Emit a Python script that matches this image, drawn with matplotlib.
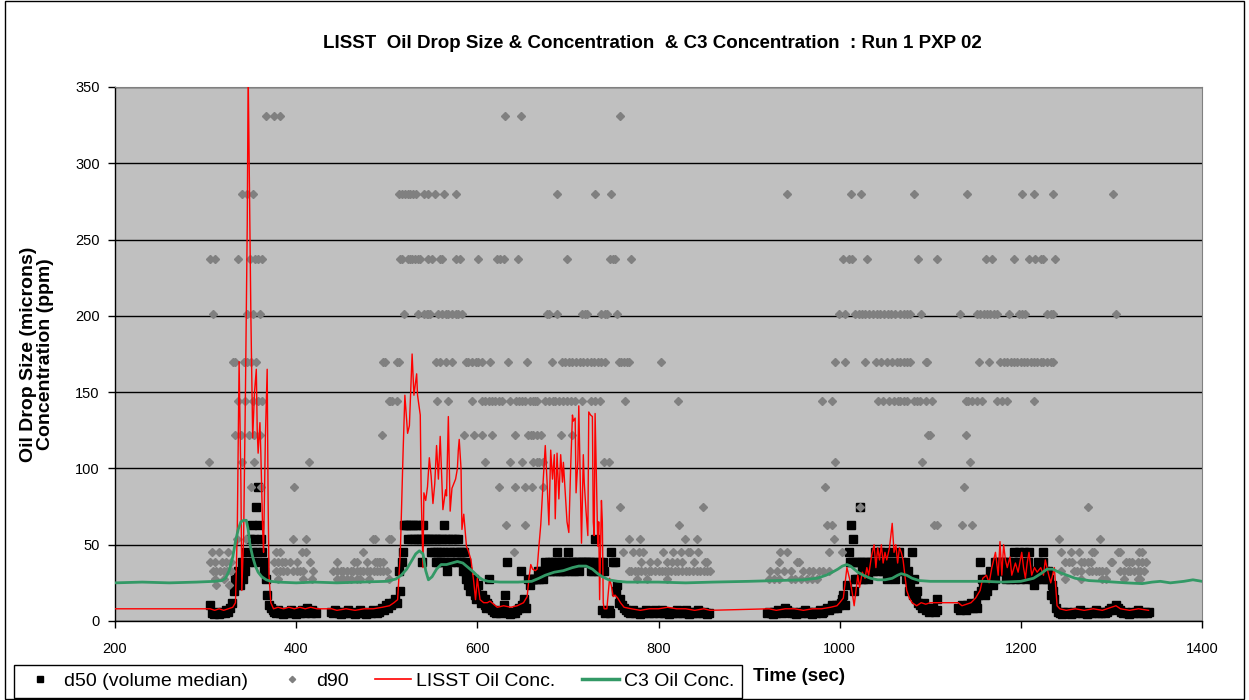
import matplotlib.pyplot as plt
from matplotlib.lines import Line2D
from matplotlib.patches import Rectangle

plt.rcParams['font.family'] = ['Liberation Sans', 'DejaVu Sans']

# ---- LISST d50 (volume median), (time s, size um) ----
d50_burst1 = [(305, 10.2), (307, 5.3), (309, 4.5), (311, 6.2), (313, 5.3), (315, 4.5), (317, 5.3),
              (319, 6.2), (321, 5.3), (323, 7.3), (325, 6.2), (327, 8.7), (329, 12.1), (331, 19.8),
              (333, 27.6), (335, 23.4), (336, 32.5), (338, 23.4), (340, 38.4), (341, 27.6), (343, 32.5),
              (345, 45.3), (347, 38.4), (349, 53.5), (351, 63.1), (352, 45.3), (354, 53.5), (355, 38.4),
              (356, 74.5), (357, 45.3), (358, 87.9), (359, 63.1), (361, 53.5), (362, 45.3), (364, 38.4),
              (365, 32.5), (367, 27.6), (368, 16.8), (370, 10.2), (372, 8.7), (374, 7.3)]
d50_base1 = [(376, 6.2), (378, 5.3), (380, 7.3), (382, 5.3), (384, 6.2), (386, 4.5), (388, 5.3),
             (390, 6.2), (392, 5.3), (394, 7.3), (396, 6.2), (398, 5.3), (400, 4.5), (402, 6.2),
             (404, 5.3), (406, 7.3), (408, 6.2), (410, 5.3), (412, 8.7), (414, 6.2), (416, 5.3),
             (418, 7.3), (420, 6.2), (422, 5.3)]
d50_base2 = [(439, 6.2), (441, 5.3), (443, 7.3), (445, 6.2), (447, 5.3), (449, 4.5), (451, 6.2),
             (453, 5.3), (455, 6.2), (457, 7.3), (459, 5.3), (461, 6.2), (463, 5.3), (465, 4.5),
             (467, 5.3), (469, 6.2), (471, 7.3), (473, 6.2), (475, 5.3), (477, 4.5), (479, 5.3),
             (481, 6.2), (483, 5.3), (485, 7.3), (487, 6.2), (489, 5.3), (491, 6.2), (493, 7.3),
             (495, 8.7), (497, 7.3), (499, 10.2), (501, 8.7), (503, 12.1), (505, 10.2), (507, 12.1),
             (509, 14.2), (511, 12.1)]
d50_burst2 = [(513, 32.5), (515, 19.8), (517, 38.4), (518, 45.3), (519, 63.1), (521, 63.1),
              (523, 63.1), (524, 53.5), (526, 63.1), (527, 53.5), (529, 63.1), (530, 53.5),
              (532, 63.1), (533, 53.5), (535, 63.1), (536, 53.5), (538, 53.5), (539, 38.4),
              (540, 63.1), (541, 53.5), (543, 53.5), (545, 53.5), (547, 53.5), (549, 45.3),
              (550, 53.5), (552, 45.3), (553, 53.5), (554, 38.4), (555, 53.5), (556, 45.3),
              (557, 38.4), (558, 53.5), (559, 45.3), (560, 38.4), (561, 53.5), (562, 45.3),
              (563, 63.1), (564, 38.4), (565, 53.5), (566, 45.3), (567, 32.5), (568, 53.5),
              (570, 45.3), (571, 38.4), (572, 53.5), (574, 45.3), (575, 53.5), (577, 45.3),
              (578, 38.4), (579, 53.5), (581, 45.3), (582, 38.4), (583, 45.3), (584, 32.5),
              (585, 45.3), (586, 32.5), (587, 38.4), (588, 27.6), (589, 32.5), (590, 23.4),
              (591, 27.6), (592, 19.8), (593, 23.4), (595, 19.8), (596, 27.6), (597, 16.8),
              (598, 19.8), (599, 14.2), (601, 23.4), (602, 16.8), (604, 12.1), (605, 16.8),
              (606, 14.2), (608, 10.2), (609, 14.2), (610, 8.7), (611, 12.1), (612, 10.2),
              (613, 27.6)]
d50_base3 = [(614, 8.7), (616, 7.3), (618, 6.2), (620, 7.3), (621, 5.3), (623, 6.2), (625, 5.3),
             (627, 6.2), (629, 10.2), (630, 16.8), (632, 6.2), (633, 38.4), (634, 5.3), (636, 4.5),
             (638, 5.3), (640, 6.2), (642, 5.3), (644, 7.3), (646, 8.7), (648, 32.5), (649, 10.2),
             (651, 14.2), (652, 12.1), (654, 8.7)]
d50_burst3 = [(656, 27.6), (658, 23.4), (660, 27.6), (661, 27.6), (663, 27.6), (665, 27.6),
              (667, 32.5), (668, 27.6), (670, 32.5), (672, 27.6), (674, 32.5), (675, 38.4),
              (677, 32.5), (679, 38.4), (680, 32.5), (682, 38.4), (684, 32.5), (686, 38.4),
              (687, 32.5), (688, 45.3), (689, 38.4), (691, 32.5), (692, 38.4), (694, 32.5),
              (695, 38.4), (697, 32.5), (698, 38.4), (700, 45.3), (701, 38.4), (703, 32.5),
              (704, 38.4), (706, 38.4), (707, 32.5), (709, 38.4), (711, 38.4), (712, 32.5),
              (714, 38.4), (716, 38.4), (718, 38.4), (720, 38.4), (722, 38.4), (724, 38.4),
              (725, 32.5), (727, 38.4), (728, 32.5), (730, 53.5), (731, 38.4), (733, 32.5),
              (735, 38.4), (736, 32.5), (738, 7.3), (739, 38.4), (740, 32.5), (741, 5.3),
              (743, 6.2), (745, 7.3), (747, 5.3), (748, 45.3), (750, 38.4), (752, 38.4),
              (753, 19.8), (754, 23.4), (756, 12.1), (758, 14.2), (760, 10.2), (762, 8.7)]
d50_base4 = [(764, 7.3), (766, 6.2), (768, 5.3), (770, 6.2), (772, 7.3), (774, 5.3), (776, 6.2),
             (778, 5.3), (780, 4.5), (782, 6.2), (784, 5.3), (786, 7.3), (788, 6.2), (790, 5.3),
             (792, 6.2), (794, 5.3), (796, 7.3), (798, 6.2), (800, 5.3), (802, 6.2), (804, 7.3),
             (806, 5.3), (808, 6.2), (810, 5.3), (812, 4.5), (814, 6.2), (816, 5.3), (818, 6.2),
             (820, 7.3), (822, 5.3), (824, 6.2), (826, 5.3), (828, 6.2), (830, 7.3), (832, 5.3),
             (834, 4.5), (836, 6.2), (838, 5.3), (840, 6.2), (842, 5.3), (844, 7.3), (846, 6.2),
             (848, 5.3), (850, 6.2), (852, 5.3), (854, 4.5), (856, 5.3)]
d50_base5 = [(920, 5.3), (922, 6.2), (924, 5.3), (926, 4.5), (928, 6.2), (930, 5.3), (932, 7.3),
             (934, 6.2), (936, 5.3), (938, 6.2), (940, 8.7), (942, 7.3), (944, 6.2), (946, 5.3),
             (948, 6.2), (950, 5.3), (952, 4.5), (954, 5.3), (956, 6.2), (958, 5.3), (960, 6.2),
             (962, 7.3), (964, 5.3), (966, 6.2), (968, 5.3), (970, 4.5), (972, 6.2), (974, 5.3),
             (976, 6.2), (978, 7.3), (980, 5.3), (982, 6.2), (984, 7.3), (986, 8.7), (988, 7.3),
             (990, 8.7), (992, 10.2), (994, 8.7), (996, 10.2)]
d50_burst4 = [(997, 8.7), (999, 10.2), (1001, 12.1), (1003, 14.2), (1004, 16.8), (1006, 10.2),
              (1008, 23.4), (1010, 45.3), (1011, 38.4), (1012, 63.1), (1014, 38.4), (1015, 53.5),
              (1016, 19.8), (1017, 27.6), (1018, 38.4), (1019, 27.6), (1021, 38.4), (1022, 74.5),
              (1023, 27.6), (1024, 38.4), (1025, 32.5), (1026, 27.6), (1027, 38.4), (1029, 32.5),
              (1030, 38.4), (1031, 27.6), (1033, 38.4), (1034, 32.5), (1036, 38.4), (1037, 32.5),
              (1039, 45.3), (1040, 38.4), (1042, 32.5), (1043, 38.4), (1045, 45.3), (1046, 38.4),
              (1048, 32.5), (1049, 38.4), (1051, 45.3), (1052, 27.6), (1054, 38.4), (1055, 32.5),
              (1057, 38.4), (1058, 45.3), (1060, 38.4), (1061, 27.6), (1063, 32.5), (1064, 38.4),
              (1066, 45.3), (1068, 38.4), (1070, 32.5), (1072, 38.4), (1073, 27.6), (1075, 32.5),
              (1076, 19.8), (1078, 23.4), (1080, 45.3), (1081, 16.8), (1082, 27.6), (1084, 14.2),
              (1085, 19.8), (1087, 12.1), (1089, 10.2), (1091, 8.7), (1093, 12.1), (1095, 7.3),
              (1097, 8.7), (1099, 6.2), (1101, 7.3), (1103, 8.7), (1105, 6.2), (1107, 7.3),
              (1108, 14.2)]
d50_burst5 = [(1131, 8.7), (1133, 7.3), (1135, 10.2), (1137, 8.7), (1139, 7.3), (1141, 10.2),
              (1143, 8.7), (1145, 12.1), (1147, 8.7), (1149, 10.2), (1151, 12.1), (1152, 8.7),
              (1153, 16.8), (1155, 38.4), (1156, 19.8), (1157, 27.6), (1158, 23.4), (1160, 16.8),
              (1161, 27.6), (1163, 19.8), (1164, 23.4), (1166, 32.5), (1167, 27.6), (1169, 23.4),
              (1171, 27.6), (1172, 38.4), (1174, 38.4), (1175, 32.5), (1177, 38.4), (1178, 32.5),
              (1180, 38.4), (1181, 32.5), (1183, 38.4), (1184, 27.6), (1186, 38.4), (1187, 32.5),
              (1188, 27.6), (1189, 32.5), (1191, 38.4), (1192, 45.3), (1193, 32.5), (1194, 27.6),
              (1196, 32.5), (1197, 38.4), (1198, 45.3), (1199, 27.6), (1201, 32.5), (1202, 38.4),
              (1203, 45.3), (1205, 32.5), (1206, 27.6), (1208, 38.4), (1209, 45.3), (1210, 32.5),
              (1212, 27.6), (1213, 32.5), (1214, 23.4), (1216, 32.5), (1218, 27.6), (1219, 38.4),
              (1221, 32.5), (1222, 27.6), (1224, 38.4), (1225, 45.3), (1227, 32.5), (1228, 27.6),
              (1230, 32.5), (1231, 27.6), (1233, 16.8), (1234, 23.4), (1236, 19.8), (1237, 14.2),
              (1239, 8.7)]
d50_tail = [(1241, 6.2), (1243, 5.3), (1245, 4.5), (1247, 6.2), (1249, 5.3), (1251, 6.2), (1253, 5.3),
            (1255, 4.5), (1257, 5.3), (1259, 6.2), (1261, 5.3), (1263, 6.2), (1265, 7.3), (1267, 5.3),
            (1269, 6.2), (1271, 5.3), (1273, 4.5), (1275, 5.3), (1277, 6.2), (1279, 5.3), (1281, 6.2),
            (1283, 7.3), (1285, 5.3), (1287, 6.2), (1289, 5.3), (1291, 6.2), (1293, 5.3), (1295, 6.2),
            (1297, 7.3), (1299, 8.7), (1301, 7.3), (1303, 8.7), (1305, 10.2), (1307, 8.7), (1309, 7.3),
            (1311, 6.2), (1313, 5.3), (1315, 6.2), (1317, 5.3), (1319, 4.5), (1321, 5.3), (1323, 6.2),
            (1325, 5.3), (1327, 6.2), (1329, 7.3), (1331, 5.3), (1333, 6.2), (1335, 5.3), (1337, 6.2),
            (1339, 5.3), (1341, 6.2)]

# ---- LISST d90, sample times grouped by size class (um) ----
d90_331 = [367, 375, 382, 630, 648, 757]
d90_280 = [340, 346, 352, 513, 517, 520, 523, 526, 529, 532, 541, 546, 553, 563, 576, 688, 730, 748,
           942, 1012, 1023, 1082, 1141, 1201, 1214, 1236, 1302]
d90_237 = [305, 310, 336, 349, 355, 358, 362, 515, 517, 524, 526, 528, 531, 534, 537, 546, 550, 559,
           561, 576, 581, 601, 622, 625, 629, 645, 699, 746, 750, 752, 770, 1004, 1010, 1014, 1030,
           1087, 1108, 1161, 1168, 1192, 1209, 1216, 1222, 1225, 1238]
d90_201 = [308, 346, 352, 360, 519, 535, 541, 544, 546, 548, 557, 561, 565, 568, 572, 576, 579, 583,
           677, 679, 688, 715, 719, 721, 737, 741, 743, 754, 999, 1006, 1017, 1021, 1025, 1028, 1032,
           1037, 1041, 1045, 1049, 1053, 1057, 1061, 1067, 1071, 1074, 1078, 1090, 1133, 1152, 1155,
           1159, 1163, 1166, 1170, 1174, 1187, 1198, 1201, 1205, 1229, 1233, 1236, 1305]
d90_170 = [330, 333, 342, 346, 350, 356, 496, 498, 511, 513, 554, 559, 565, 572, 587, 590, 594, 598,
           601, 605, 614, 634, 655, 682, 693, 697, 701, 705, 709, 713, 717, 721, 725, 729, 733, 737,
           741, 756, 759, 762, 765, 767, 803, 995, 1006, 1028, 1040, 1046, 1052, 1058, 1063, 1067,
           1071, 1074, 1078, 1095, 1096, 1154, 1165, 1177, 1181, 1185, 1189, 1192, 1196, 1200, 1203,
           1207, 1211, 1214, 1218, 1222, 1225, 1229, 1233, 1236]
d90_144 = [336, 343, 352, 358, 362, 502, 504, 506, 511, 555, 568, 594, 605, 609, 613, 616, 620, 624,
           627, 636, 643, 646, 649, 653, 658, 661, 664, 666, 675, 679, 683, 686, 690, 695, 699, 703,
           708, 716, 726, 730, 735, 763, 822, 981, 992, 1042, 1048, 1054, 1060, 1064, 1067, 1071,
           1074, 1082, 1085, 1089, 1095, 1102, 1139, 1142, 1146, 1152, 1157, 1174, 1179, 1185, 1214]
d90_122 = [333, 339, 348, 353, 360, 495, 585, 596, 605, 616, 642, 656, 659, 662, 666, 670, 692,
           705, 1098, 1100, 1139]
d90_104 = [304, 340, 354, 414, 609, 636, 649, 662, 666, 668, 672, 740, 745, 995, 1091, 1144]
d90_88 = [350, 361, 398, 624, 642, 653, 660, 673, 984, 1137]
d90_74 = [758, 849, 1022, 1274]
d90_63 = [632, 653, 823, 986, 992, 1104, 1108, 1135, 1146]
d90_53 = [335, 345, 397, 411, 485, 487, 502, 505, 767, 780, 829, 842, 994, 1242, 1287]
d90_45 = [307, 315, 325, 378, 382, 406, 411, 474, 640, 761, 772, 778, 783, 805, 816, 825, 833, 835,
          844, 934, 942, 988, 1003, 1244, 1255, 1264, 1279, 1281, 1307, 1310, 1330, 1334]
d90_38 = [305, 310, 318, 322, 328, 376, 380, 384, 388, 393, 401, 415, 445, 464, 467, 478, 487, 489,
          491, 493, 496, 781, 791, 798, 809, 815, 820, 826, 839, 851, 853, 933, 953, 955, 1249, 1253,
          1257, 1266, 1270, 1274, 1277, 1299, 1301, 1316, 1319, 1323, 1329, 1334, 1338]
d90_32 = [308, 312, 316, 320, 324, 328, 378, 382, 386, 390, 397, 401, 404, 408, 419, 441, 445, 449,
          452, 456, 460, 463, 467, 471, 474, 478, 482, 486, 489, 493, 496, 500, 767, 770, 774, 777,
          781, 785, 789, 792, 796, 800, 804, 807, 811, 814, 818, 822, 826, 830, 834, 838, 842, 846,
          850, 854, 857, 923, 931, 938, 946, 960, 966, 971, 977, 982, 988, 1244, 1259, 1262, 1266,
          1275, 1279, 1283, 1286, 1290, 1294, 1310, 1314, 1318, 1321, 1325, 1329, 1332, 1336]
d90_27 = [310, 320, 380, 408, 417, 445, 449, 452, 456, 460, 467, 471, 480, 502, 776, 787, 809, 922,
          927, 933, 946, 951, 957, 964, 969, 975, 1249, 1266, 1290, 1294, 1314, 1329, 1332]
d90_23 = [312, 326]

# ---- LISST oil concentration (ppm) ----
lisst_conc = [(200, 8), (230, 8), (260, 8), (300, 8), (305, 8), (310, 7), (315, 8), (320, 7), (325, 8),
              (330, 9), (333, 12), (335, 60), (337, 170), (339, 90), (340, 20), (342, 55), (344, 150),
              (346, 260), (347, 360), (349, 250), (350, 200), (352, 120), (354, 150), (356, 165),
              (357, 125), (358, 110), (360, 130), (361, 110), (363, 60), (364, 45), (366, 120),
              (368, 165), (369, 80), (370, 30), (372, 12), (375, 8), (380, 9), (386, 8), (392, 9),
              (398, 8), (404, 9), (410, 8), (416, 9), (423, 8), (439, 8), (445, 7), (455, 8), (465, 7),
              (475, 8), (485, 8), (495, 9), (503, 10), (508, 12), (512, 14), (515, 45), (518, 110),
              (520, 148), (523, 123), (525, 128), (528, 175), (530, 148), (533, 162), (534, 148),
              (537, 135), (538, 84), (540, 35), (541, 84), (543, 79), (545, 88), (547, 107), (549, 95),
              (551, 77), (553, 90), (555, 115), (557, 93), (559, 121), (562, 73), (565, 86), (566, 82),
              (568, 134), (570, 72), (572, 87), (574, 90), (576, 93), (578, 100), (579, 112),
              (580, 119), (582, 100), (583, 60), (585, 70), (588, 49), (590, 46), (593, 40), (596, 26),
              (598, 14), (600, 28), (601, 23), (603, 14), (607, 12), (611, 12), (614, 13), (622, 9),
              (629, 10), (637, 9), (644, 10), (651, 12), (655, 16), (657, 28), (659, 37), (661, 34),
              (664, 33), (666, 34), (668, 49), (670, 63), (673, 95), (675, 115), (677, 91), (679, 63),
              (681, 112), (683, 93), (685, 109), (686, 67), (688, 110), (690, 80), (692, 109),
              (694, 91), (695, 104), (697, 84), (699, 65), (701, 58), (703, 100), (705, 135),
              (706, 131), (708, 133), (709, 84), (711, 105), (712, 141), (713, 110), (715, 51),
              (717, 109), (718, 91), (720, 72), (722, 56), (723, 137), (725, 135), (727, 134),
              (728, 65), (729, 56), (730, 136), (732, 79), (733, 49), (734, 65), (735, 14), (737, 79),
              (738, 65), (739, 12), (740, 8), (743, 8), (746, 28), (748, 23), (750, 16), (752, 17),
              (755, 15), (758, 12), (762, 9), (770, 8), (780, 7), (790, 8), (800, 8), (810, 9),
              (820, 8), (830, 8), (840, 7), (850, 8), (857, 7), (922, 8), (930, 7), (940, 8), (950, 8),
              (960, 7), (970, 8), (980, 8), (990, 9), (997, 10), (1000, 12), (1004, 15), (1006, 25),
              (1008, 35), (1010, 30), (1012, 25), (1014, 18), (1016, 10), (1018, 20), (1020, 30),
              (1022, 22), (1025, 32), (1028, 28), (1030, 35), (1032, 30), (1035, 42), (1038, 50),
              (1040, 35), (1042, 48), (1044, 40), (1046, 50), (1048, 38), (1050, 45), (1052, 40),
              (1055, 48), (1058, 64), (1060, 45), (1062, 50), (1064, 38), (1066, 48), (1068, 45),
              (1070, 40), (1072, 30), (1074, 20), (1077, 15), (1080, 12), (1085, 10), (1090, 12),
              (1095, 11), (1100, 12), (1108, 12), (1131, 12), (1135, 10), (1140, 11), (1145, 12),
              (1150, 15), (1155, 20), (1158, 28), (1162, 30), (1165, 25), (1168, 35), (1172, 45),
              (1175, 30), (1177, 52), (1179, 30), (1181, 50), (1183, 40), (1185, 35), (1188, 42),
              (1190, 30), (1194, 38), (1197, 32), (1201, 45), (1203, 35), (1205, 28), (1207, 38),
              (1209, 45), (1212, 30), (1215, 35), (1218, 32), (1222, 35), (1225, 30), (1227, 40),
              (1230, 32), (1233, 25), (1237, 35), (1240, 10), (1243, 8), (1250, 7), (1260, 8),
              (1270, 7), (1280, 8), (1290, 7), (1300, 9), (1305, 10), (1310, 8), (1320, 7), (1330, 8),
              (1341, 7)]

# ---- C3 fluorometer oil concentration (ppm) ----
c3_conc = [(200, 25), (230, 25.5), (260, 25), (290, 25.5), (310, 26), (318, 26.5), (322, 28), (326, 33),
           (330, 42), (333, 52), (336, 60), (339, 65), (342, 66), (345, 66), (347, 60), (349, 50),
           (352, 42), (355, 36), (358, 32), (362, 29), (367, 27), (372, 26), (380, 25.5), (400, 25),
           (420, 25.5), (445, 25), (470, 25.5), (500, 26), (510, 27.5), (516, 30), (522, 34), (528, 40),
           (532, 44), (536, 46), (540, 44), (543, 33), (546, 27), (550, 29), (555, 34), (560, 37),
           (566, 37), (572, 38), (578, 39), (584, 38), (590, 35), (596, 32), (601, 29), (606, 27),
           (612, 26), (625, 25.5), (645, 25.5), (660, 26), (668, 28), (675, 30), (685, 32), (695, 33),
           (705, 35), (712, 36), (720, 36), (727, 34), (733, 31), (738, 29), (745, 27), (755, 26),
           (765, 25.5), (800, 25.5), (830, 25), (860, 25.5), (900, 26), (930, 26.5), (960, 27),
           (975, 28), (985, 30), (992, 32), (998, 34), (1003, 36), (1008, 37), (1012, 36), (1016, 34),
           (1020, 32), (1026, 30), (1034, 28), (1042, 27), (1050, 27), (1058, 28), (1064, 30),
           (1068, 31), (1074, 30), (1080, 28), (1088, 26.5), (1100, 26), (1130, 26), (1160, 26),
           (1180, 25.5), (1200, 26), (1214, 28), (1222, 31), (1229, 34), (1235, 34), (1242, 32),
           (1251, 30), (1260, 28), (1275, 26.5), (1290, 26), (1316, 25), (1334, 24.5), (1345, 25.5),
           (1354, 26), (1365, 25), (1380, 26), (1390, 27), (1400, 26)]

x_ticks = [200, 400, 600, 800, 1000, 1200, 1400]
y_ticks = [0, 50, 100, 150, 200, 250, 300, 350]
title = "LISST  Oil Drop Size & Concentration  & C3 Concentration  : Run 1 PXP 02"

d50_all = (d50_burst1 + d50_base1 + d50_base2 + d50_burst2 + d50_base3 + d50_burst3 +
           d50_base4 + d50_base5 + d50_burst4 + d50_burst5 + d50_tail)
d90_rows = [(331, d90_331), (280, d90_280), (237, d90_237), (201, d90_201), (170, d90_170),
            (144, d90_144), (122, d90_122), (104, d90_104), (87.9, d90_88), (74.5, d90_74),
            (63.1, d90_63), (53.5, d90_53), (45.3, d90_45), (38.4, d90_38), (32.5, d90_32),
            (27.6, d90_27), (23.4, d90_23)]

W, H = 1249, 700
fig = plt.figure(figsize=(W / 100, H / 100), dpi=100)
ax = fig.add_axes([115 / W, 1 - 621 / H, (1202 - 115) / W, (621 - 87) / H])
ax.set_facecolor('#C0C0C0')

ax.plot([p[0] for p in d50_all], [p[1] for p in d50_all], ls='none', marker='s', ms=5.6,
        color='black', zorder=3)
for size, times in d90_rows:
    ax.plot(times, [size] * len(times), ls='none', marker='D', ms=3.6,
            color='#808080', zorder=4)
ax.plot([p[0] for p in lisst_conc], [p[1] for p in lisst_conc], color='#FF0000', lw=1.0, zorder=5)
ax.plot([p[0] for p in c3_conc], [p[1] for p in c3_conc], color='#339966', lw=2.0, zorder=6)

ax.set_xlim(200, 1400)
ax.set_ylim(0, 350)
ax.set_xticks(x_ticks)
ax.set_yticks(y_ticks)
ax.yaxis.grid(True, color='black', lw=1.0)
ax.set_axisbelow(True)
for side in ['top', 'right']:
    ax.spines[side].set_color('#808080')
for side in ['left', 'bottom']:
    ax.spines[side].set_color('black')
    ax.spines[side].set_linewidth(1.0)
ax.tick_params(axis='both', direction='out', length=5, width=1, labelsize=10.5)
ax.tick_params(axis='x', pad=10)
ax.tick_params(axis='y', pad=6)

fig.text(0.522, 0.938, title, ha='center', va='center', fontsize=13.5, fontweight='bold')
fig.text(0.03, 0.494, "Oil Drop Size (microns)\nConcentration (ppm)", rotation=90,
         ha='center', va='center', fontsize=14, fontweight='bold', linespacing=1.0)
fig.text(753 / W, 0.033, "Time (sec)", ha='left', va='center', fontsize=13.5, fontweight='bold')

handles = [
    Line2D([], [], ls='none', marker='s', ms=4.5, color='black'),
    Line2D([], [], ls='none', marker='D', ms=3.2, color='#808080'),
    Line2D([], [], color='#FF0000', lw=1.2),
    Line2D([], [], color='#339966', lw=2.5),
]
labels = ["d50 (volume median)", "d90", "LISST Oil Conc.", "C3 Oil Conc."]
leg = fig.legend(handles, labels, loc='lower left', bbox_to_anchor=(14 / W, 2 / H), ncol=4,
                 fontsize=14, frameon=True, fancybox=False, edgecolor='black', framealpha=1,
                 handlelength=1.9, handletextpad=0.25, columnspacing=1.35, borderpad=0.4,
                 borderaxespad=0)
leg.get_frame().set_linewidth(1.0)

fig.patches.append(Rectangle((5 / W, 1 / H), 1 - 10 / W, 1 - 2 / H, transform=fig.transFigure,
                             fill=False, ec='black', lw=1.0))

fig.savefig('out.png', dpi=100)
